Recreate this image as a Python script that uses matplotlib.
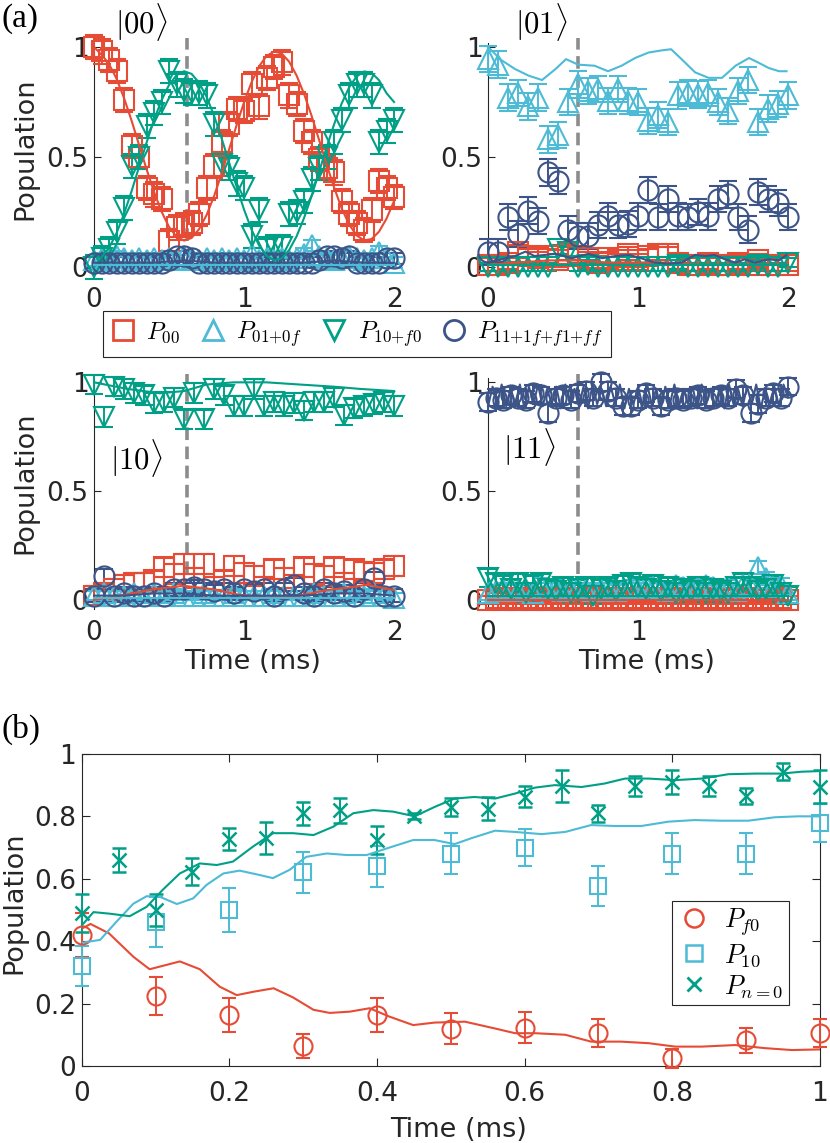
import numpy as np
import matplotlib
matplotlib.use("Agg")
import matplotlib.pyplot as plt
from matplotlib.lines import Line2D

plt.rcParams["font.family"] = ["DejaVu Sans"]
plt.rcParams["mathtext.fontset"] = "cm"

RED = "#E64B35"
CYAN = "#4DBBD5"
GREEN = "#00A087"
NAVY = "#3C5488"
GREY = "#8C8C8C"
INK = "#262626"

# ---------------- panel (a): populations, time in ms ----------------
# |00> start, 41 samples 0..2 ms
p00_00 = [1.00, 0.98, 0.94, 0.89, 0.76, 0.55, 0.50, 0.36, 0.33, 0.31,
          0.12, 0.18, 0.19, 0.20, 0.24, 0.36, 0.46, 0.57, 0.65, 0.72,
          0.71, 0.83, 0.73, 0.86, 0.91, 0.93, 0.78, 0.74, 0.62, 0.57,
          0.49, 0.45, 0.43, 0.30, 0.24, 0.20, 0.17, 0.26, 0.39, 0.36,
          0.32]
p01_00 = [0.03, 0.04, 0.03, 0.05, 0.04, 0.03, 0.04, 0.03, 0.04, 0.03,
          0.04, 0.03, 0.05, 0.04, 0.03, 0.04, 0.03, 0.04, 0.03, 0.04,
          0.03, 0.06, 0.03, 0.04, 0.03, 0.04, 0.03, 0.04, 0.06, 0.10,
          0.05, 0.04, 0.03, 0.04, 0.05, 0.04, 0.03, 0.04, 0.07, 0.04,
          0.02]
p10_00 = [0.00, 0.04, 0.08, 0.16, 0.27, 0.46, 0.50, 0.64, 0.70, 0.75,
          0.89, 0.83, 0.80, 0.79, 0.79, 0.78, 0.65, 0.47, 0.45, 0.38,
          0.36, 0.14, 0.26, 0.08, 0.09, 0.09, 0.24, 0.25, 0.30, 0.40,
          0.45, 0.50, 0.57, 0.67, 0.78, 0.83, 0.83, 0.78, 0.57, 0.62,
          0.67]
p11_00 = [0.02, 0.02, 0.02, 0.02, 0.02, 0.02, 0.02, 0.02, 0.02, 0.02,
          0.03, 0.05, 0.05, 0.04, 0.02, 0.02, 0.02, 0.02, 0.02, 0.02,
          0.02, 0.02, 0.02, 0.02, 0.02, 0.02, 0.02, 0.02, 0.02, 0.02,
          0.03, 0.05, 0.05, 0.04, 0.05, 0.02, 0.02, 0.02, 0.02, 0.04,
          0.04]
err_00 = [0.055, 0.025, 0.055, 0.025]
th00_00 = [1.00, 0.965, 0.923, 0.856, 0.768, 0.666, 0.555, 0.445, 0.341, 0.252,
           0.182, 0.138, 0.12, 0.132, 0.172, 0.236, 0.322, 0.424, 0.534, 0.644,
           0.749, 0.840, 0.912, 0.959, 0.98, 0.971, 0.934, 0.871, 0.787, 0.688,
           0.578, 0.467, 0.362, 0.268, 0.194, 0.144, 0.121, 0.127, 0.161, 0.22,
           0.30]
th10_00 = [0.00, 0.045, 0.087, 0.154, 0.242, 0.344, 0.455, 0.565, 0.669, 0.758,
           0.828, 0.872, 0.89, 0.878, 0.838, 0.774, 0.688, 0.586, 0.476, 0.366,
           0.261, 0.17, 0.098, 0.051, 0.03, 0.039, 0.076, 0.139, 0.223, 0.322,
           0.432, 0.543, 0.648, 0.742, 0.816, 0.866, 0.889, 0.883, 0.849, 0.79,
           0.75]
th01_00 = [0.01, 0.01, 0.01, 0.01, 0.01, 0.01, 0.01, 0.01, 0.01, 0.01, 0.01]
th11_00 = [0.02, 0.02, 0.02, 0.03, 0.02, 0.02, 0.02, 0.02, 0.03, 0.02, 0.02]

# |01> start, 31 samples
p00_01 = [0.01, 0.01, 0.02, 0.07, 0.05, 0.04, 0.05, 0.03, 0.06, 0.05,
          0.04, 0.02, 0.04, 0.03, 0.06, 0.03, 0.05, 0.06, 0.06, 0.02,
          0.01, 0.01, 0.02, 0.01, 0.01, 0.02, 0.01, 0.03, 0.01, 0.01,
          0.01]
p01_01 = [0.945, 0.92, 0.77, 0.79, 0.73, 0.77, 0.58, 0.60, 0.75, 0.83,
          0.80, 0.81, 0.755, 0.81, 0.755, 0.75, 0.665, 0.69, 0.66, 0.78,
          0.79, 0.785, 0.79, 0.75, 0.71, 0.80, 0.85, 0.66, 0.72, 0.74,
          0.78]
p10_01 = [0.00, 0.00, 0.00, 0.00, 0.00, 0.00, 0.00, 0.08, 0.07, 0.00,
          0.01, 0.00, 0.00, 0.00, 0.00, 0.00, 0.00, 0.00, 0.00, 0.01,
          0.00, 0.00, 0.00, 0.00, 0.00, 0.00, 0.00, 0.01, 0.00, 0.00,
          0.02]
p11_01 = [0.067, 0.067, 0.226, 0.15, 0.256, 0.21, 0.43, 0.39, 0.17, 0.14,
          0.14, 0.19, 0.23, 0.19, 0.195, 0.23, 0.35, 0.226, 0.31, 0.23,
          0.226, 0.25, 0.23, 0.31, 0.33, 0.226, 0.17, 0.34, 0.31, 0.29,
          0.226]
err_01 = [0.03, 0.06, 0.02, 0.06]
th01_01_t = [0, 0.09, 0.18, 0.27, 0.36, 0.45, 0.52, 0.6, 0.71, 0.8, 0.89, 0.98, 1.07,
             1.16, 1.22, 1.29, 1.38, 1.47, 1.56, 1.65, 1.74, 1.80, 1.87, 1.94, 1.99]
th01_01 = [1.0, 0.94, 0.90, 0.87, 0.85, 0.90, 0.945, 0.92, 0.915, 0.89, 0.915, 0.95, 0.975,
           0.985, 0.99, 0.945, 0.885, 0.86, 0.86, 0.915, 0.95, 0.93, 0.905, 0.89, 0.89]
th11_01_t = [0, 0.09, 0.18, 0.25, 0.31, 0.45, 0.56, 0.67, 0.76, 0.85, 0.94, 1.02, 1.11,
             1.2, 1.29, 1.38, 1.45, 1.51, 1.58, 1.65, 1.71, 1.78, 1.87, 1.94, 1.99]
th11_01 = [0.02, 0.035, 0.05, 0.07, 0.05, 0.06, 0.04, 0.06, 0.04, 0.05, 0.055, 0.04, 0.02,
           0.015, 0.02, 0.055, 0.05, 0.055, 0.035, 0.02, 0.035, 0.02, 0.035, 0.03, 0.055]
th00_01 = [0.01, 0.02, 0.03, 0.03, 0.02, 0.02, 0.02, 0.01, 0.01, 0.01, 0.01]
th10_01 = [0.01, 0.01, 0.01, 0.01, 0.01, 0.01, 0.01, 0.01, 0.01, 0.01, 0.01]

# |10> start, 31 samples
p00_10 = [0.02, 0.03, 0.05, 0.07, 0.08, 0.08, 0.09, 0.15, 0.12, 0.165,
          0.10, 0.165, 0.06, 0.09, 0.155, 0.125, 0.11, 0.06, 0.14, 0.10,
          0.07, 0.15, 0.12, 0.11, 0.15, 0.08, 0.14, 0.13, 0.125, 0.14,
          0.155]
p01_10 = [0.02, 0.03, 0.02, 0.02, 0.03, 0.02, 0.03, 0.02, 0.03, 0.02,
          0.02, 0.03, 0.02, 0.02, 0.03, 0.02, 0.02, 0.02, 0.03, 0.02,
          0.02, 0.02, 0.03, 0.02, 0.02, 0.03, 0.02, 0.02, 0.03, 0.02,
          0.01]
p10_10 = [0.99, 0.84, 0.98, 0.97, 0.95, 0.94, 0.905, 0.91, 0.93, 0.83,
          0.95, 0.83, 0.97, 0.94, 0.89, 0.89, 0.97, 0.89, 0.91, 0.89,
          0.905, 0.87, 0.91, 0.91, 0.93, 0.85, 0.88, 0.89, 0.90, 0.91,
          0.89]
p11_10 = [0.02, 0.11, 0.02, 0.03, 0.02, 0.02, 0.03, 0.02, 0.05, 0.05,
          0.06, 0.05, 0.04, 0.05, 0.03, 0.05, 0.04, 0.05, 0.02, 0.05,
          0.07, 0.03, 0.02, 0.05, 0.03, 0.04, 0.02, 0.05, 0.10, 0.02,
          0.02]
err_10 = [0.045, 0.02, 0.045, 0.03]
th10_10_t = [0, 0.22, 0.44, 0.6, 0.75, 0.93, 1.15, 1.37, 1.6, 1.77, 2.0]
th10_10 = [1.0, 0.97, 0.95, 0.96, 0.99, 1.0, 1.0, 0.99, 0.98, 0.97, 0.96]
th00_10_t = [0, 0.22, 0.4, 0.6, 0.78, 0.96, 1.15, 1.37, 1.55, 1.73, 1.82, 2.0]
th00_10 = [0.0, 0.025, 0.05, 0.065, 0.05, 0.025, 0.01, 0.02, 0.045, 0.06, 0.07, 0.045]
th01_10 = [0.01, 0.01, 0.01, 0.01, 0.01, 0.01, 0.01, 0.01, 0.01, 0.01, 0.01]
th11_10 = [0.02, 0.02, 0.03, 0.03, 0.02, 0.02, 0.02, 0.02, 0.03, 0.03, 0.02]

# |11> start, 41 samples
p00_11 = [0.00, 0.01, 0.00, 0.01, 0.00, 0.01, 0.00, 0.01, 0.00, 0.01,
          0.00, 0.01, 0.00, 0.01, 0.00, 0.01, 0.00, 0.01, 0.00, 0.01,
          0.00, 0.01, 0.00, 0.01, 0.00, 0.01, 0.00, 0.01, 0.00, 0.01,
          0.00, 0.01, 0.00, 0.01, 0.00, 0.01, 0.00, 0.01, 0.00, 0.01,
          0.00]
p01_11 = [0.03, 0.04, 0.05, 0.06, 0.04, 0.05, 0.03, 0.07, 0.05, 0.06,
          0.04, 0.05, 0.06, 0.05, 0.04, 0.05, 0.06, 0.04, 0.05, 0.06,
          0.05, 0.07, 0.06, 0.05, 0.04, 0.07, 0.06, 0.05, 0.06, 0.07,
          0.06, 0.05, 0.06, 0.04, 0.07, 0.06, 0.15, 0.10, 0.06, 0.07,
          0.03]
p10_11 = [0.10, 0.08, 0.07, 0.05, 0.08, 0.03, 0.07, 0.08, 0.05, 0.04,
          0.06, 0.03, 0.05, 0.06, 0.02, 0.05, 0.06, 0.04, 0.07, 0.08,
          0.06, 0.05, 0.07, 0.04, 0.06, 0.03, 0.05, 0.04, 0.06, 0.03,
          0.05, 0.04, 0.03, 0.06, 0.08, 0.06, 0.04, 0.05, 0.07, 0.03,
          0.02]
p11_11 = [0.91, 0.93, 0.92, 0.94, 0.93, 0.92, 0.95, 0.94, 0.86, 0.93,
          0.94, 0.92, 0.95, 0.96, 0.93, 1.00, 0.96, 0.93, 0.89, 0.89,
          0.92, 0.95, 0.93, 0.89, 0.92, 0.93, 0.92, 0.93, 0.94, 0.92,
          0.93, 0.94, 0.93, 0.97, 0.94, 0.86, 0.90, 0.93, 0.95, 0.93,
          0.98]
err_11 = [0.02, 0.03, 0.04, 0.04]
th11_11 = [0.89, 0.98, 0.90, 0.99, 0.89, 0.97, 0.90, 0.99, 0.88, 0.98,
           0.90, 0.99, 0.89, 0.97, 0.90, 0.98, 0.88, 0.99, 0.90, 0.97,
           0.89, 0.98, 0.88, 0.99, 0.90, 0.97, 0.89, 0.98, 0.90, 0.99,
           0.88, 0.97, 0.90, 0.98, 0.89, 0.99, 0.90, 0.97, 0.88, 0.98,
           0.90, 0.99, 0.89, 0.97, 0.90, 0.98, 0.88, 0.99, 0.90, 0.97,
           0.89, 0.98, 0.88, 0.99, 0.90, 0.97, 0.89, 0.98, 0.90, 0.99,
           0.88, 0.97, 0.90, 0.98, 0.89, 0.99, 0.93]
th00_11 = [0.0, 0.0, 0.0, 0.0, 0.0, 0.0, 0.0, 0.0, 0.0, 0.0, 0.0]
th01_11 = [0.02, 0.02, 0.02, 0.02, 0.02, 0.02, 0.02, 0.02, 0.02, 0.02, 0.02]
th10_11 = [0.02, 0.02, 0.02, 0.02, 0.02, 0.02, 0.02, 0.02, 0.02, 0.02, 0.02]

dash_x = [0.62, 0.6, 0.62, 0.6]
kets = [r"$|00\rangle$", r"$|01\rangle$", r"$|10\rangle$", r"$|11\rangle$"]
legend_a = [r"$P_{00}$", r"$P_{01{+}0f}$", r"$P_{10{+}f0}$", r"$P_{11{+}1f{+}f1{+}ff}$"]

# ---------------- panel (b) ----------------
tb10 = [0.0, 0.1, 0.2, 0.3, 0.4, 0.5, 0.6, 0.7, 0.8, 0.9, 1.0]
pf0_b = [0.42, 0.224, 0.163, 0.064, 0.163, 0.12, 0.123, 0.105, 0.025, 0.083, 0.105]
ef0_b = [0.07, 0.06, 0.055, 0.04, 0.055, 0.05, 0.05, 0.045, 0.03, 0.04, 0.045]
p10_b = [0.32, 0.46, 0.50, 0.62, 0.64, 0.68, 0.70, 0.577, 0.68, 0.68, 0.778]
e10_b = [0.065, 0.08, 0.07, 0.065, 0.065, 0.065, 0.06, 0.065, 0.065, 0.065, 0.06]
tb20 = [0.0, 0.05, 0.1, 0.15, 0.2, 0.25, 0.3, 0.35, 0.4, 0.45, 0.5,
        0.55, 0.6, 0.65, 0.7, 0.75, 0.8, 0.85, 0.9, 0.95, 1.0]
pn0_b = [0.49, 0.66, 0.50, 0.623, 0.727, 0.73, 0.81, 0.82, 0.725, 0.80, 0.83,
         0.825, 0.863, 0.897, 0.81, 0.897, 0.911, 0.897, 0.865, 0.943, 0.895]
en0_b = [0.06, 0.04, 0.05, 0.043, 0.036, 0.052, 0.037, 0.04, 0.045, 0.01, 0.03,
         0.037, 0.033, 0.052, 0.027, 0.033, 0.038, 0.033, 0.027, 0.027, 0.053]
thf0_b_t = [0, 0.012, 0.037, 0.07, 0.092, 0.115, 0.133, 0.16, 0.187, 0.21,
            0.233, 0.26, 0.286, 0.314, 0.336, 0.363, 0.39, 0.417, 0.449, 0.478,
            0.519, 0.56, 0.587, 0.614, 0.655, 0.69, 0.73, 0.768, 0.804, 0.84,
            0.885, 0.926, 0.962, 1.0]
thf0_b = [0.44, 0.455, 0.425, 0.35, 0.31, 0.324, 0.335, 0.31, 0.254, 0.227,
          0.238, 0.249, 0.22, 0.18, 0.17, 0.174, 0.185, 0.158, 0.131, 0.139,
          0.142, 0.12, 0.105, 0.105, 0.10, 0.078, 0.078, 0.073, 0.062, 0.062,
          0.067, 0.057, 0.051, 0.053]
th10_b_t = [0, 0.025, 0.047, 0.07, 0.088, 0.106, 0.129, 0.151, 0.169, 0.192,
            0.214, 0.241, 0.259, 0.282, 0.304, 0.332, 0.359, 0.386, 0.413, 0.449,
            0.478, 0.505, 0.528, 0.56, 0.587, 0.623, 0.655, 0.69, 0.722, 0.758,
            0.795, 0.83, 0.866, 0.903, 0.939, 0.97, 1.0]
th10_b = [0.395, 0.404, 0.462, 0.52, 0.544, 0.542, 0.519, 0.537, 0.58, 0.617,
          0.626, 0.612, 0.602, 0.629, 0.67, 0.681, 0.676, 0.676, 0.697, 0.724,
          0.724, 0.711, 0.73, 0.754, 0.75, 0.743, 0.75, 0.772, 0.769, 0.769,
          0.783, 0.788, 0.786, 0.786, 0.797, 0.80, 0.80]
thn0_b_t = [0, 0.016, 0.038, 0.065, 0.088, 0.11, 0.133, 0.16, 0.183, 0.205,
            0.232, 0.259, 0.286, 0.314, 0.341, 0.368, 0.395, 0.422, 0.451, 0.478,
            0.505, 0.532, 0.56, 0.587, 0.614, 0.641, 0.677, 0.708, 0.736, 0.768,
            0.804, 0.84, 0.876, 0.912, 0.948, 0.975, 1.0]
thn0_b = [0.45, 0.493, 0.488, 0.48, 0.51, 0.565, 0.617, 0.649, 0.644, 0.655,
          0.703, 0.746, 0.746, 0.74, 0.767, 0.81, 0.82, 0.815, 0.80, 0.83,
          0.857, 0.862, 0.857, 0.873, 0.892, 0.90, 0.894, 0.905, 0.921, 0.921,
          0.916, 0.921, 0.935, 0.937, 0.937, 0.943, 0.945]
legend_b = [r"$P_{f0}$", r"$P_{10}$", r"$P_{n{=}0}$"]

# marker styles for the four series of panel (a)
STYLE_A = [("s", RED, 14), ("^", CYAN, 15), ("v", GREEN, 15), ("o", NAVY, 14.5)]


def tgrid(vals, t=None):
    return np.asarray(t) if t is not None else np.linspace(0, 2, len(vals))


def draw_a(ax, data, errs, lines, dx):
    ax.plot([dx, dx], [0.12, 1.04], color=GREY, lw=2.6, dashes=(3.5, 1.8),
            clip_on=False, zorder=1)
    for vals, e, (mk, col, ms) in zip(data, errs, STYLE_A):
        ax.errorbar(tgrid(vals), vals, yerr=e, fmt=mk, mfc="none", mec=col,
                    ecolor=col, ms=ms, mew=1.5, elinewidth=1.4, capsize=6.5,
                    capthick=1.4, clip_on=False, zorder=3)
    for t, vals, col in lines:
        ax.plot(tgrid(vals, t), vals, color=col, lw=1.5, clip_on=False, zorder=4)
    ax.set_xlim(0, 2.05)
    ax.set_ylim(-0.04, 1.02)
    for s in ["top", "right", "bottom"]:
        ax.spines[s].set_visible(False)
    ax.spines["left"].set_color(INK)
    ax.spines["left"].set_linewidth(0.8)
    ax.set_yticks([0, 0.5, 1])
    ax.set_yticklabels(["0", "0.5", "1"])
    ax.set_xticks([0, 1, 2])
    ax.set_xticklabels(["0", "1", "2"])
    ax.tick_params(axis="y", direction="in", length=5, width=0.8, labelsize=19,
                   pad=4, colors=INK)
    ax.tick_params(axis="x", length=0, labelsize=19, pad=8, colors=INK)


fig = plt.figure(figsize=(8.3, 11.43), dpi=100)

pos_a = [[0.1133, 0.7587, 0.3705, 0.2040], [0.5880, 0.7587, 0.3705, 0.2040],
         [0.1133, 0.4675, 0.3705, 0.2018], [0.5880, 0.4675, 0.3705, 0.2018]]
panels = [
    ([p00_00, p01_00, p10_00, p11_00], err_00,
     [(None, th00_00, RED), (None, th10_00, GREEN), (None, th01_00, CYAN), (None, th11_00, NAVY)]),
    ([p00_01, p01_01, p10_01, p11_01], err_01,
     [(th01_01_t, th01_01, CYAN), (None, th00_01, RED), (None, th10_01, GREEN),
      (th11_01_t, th11_01, NAVY)]),
    ([p00_10, p01_10, p10_10, p11_10], err_10,
     [(th10_10_t, th10_10, GREEN), (th00_10_t, th00_10, RED), (None, th01_10, CYAN),
      (None, th11_10, NAVY)]),
    ([p00_11, p01_11, p10_11, p11_11], err_11,
     [(None, th11_11, NAVY), (None, th00_11, RED), (None, th01_11, CYAN), (None, th10_11, GREEN)]),
]
ket_xy = [(141, 22), (541, 22), (136, 458), (529, 447)]

for i, (pos, (data, errs, lines)) in enumerate(zip(pos_a, panels)):
    ax = fig.add_axes(pos)
    draw_a(ax, data, errs, lines, dash_x[i])
    if i % 2 == 0:
        ax.set_ylabel("Population", fontsize=19.5, color=INK)
        ax.yaxis.set_label_coords(-0.182, 0.547)
    if i >= 2:
        ax.set_xlabel("Time (ms)", fontsize=19.5, color=INK)
        ax.xaxis.set_label_coords(0.515, -0.175)
    kx, ky = ket_xy[i]
    fig.text(kx / 830, 1 - ky / 1143, kets[i], fontsize=22, ha="center", va="center")

handles_a = [Line2D([], [], ls="none", marker=mk, mfc="none", mec=col, ms=ms, mew=2)
             for mk, col, ms in STYLE_A]
leg = fig.legend(handles_a, legend_a, loc="center", bbox_to_anchor=(0.430, 0.7078),
                 ncol=4, fontsize=17.5, handlelength=1.0, handletextpad=0.45,
                 columnspacing=0.85, borderpad=0.32, fancybox=False, framealpha=1)
leg.get_frame().set_edgecolor(INK)
leg.get_frame().set_linewidth(0.8)

fig.text(20 / 830, 1 - 19 / 1143, "(a)", family="Liberation Serif", fontsize=24,
         ha="center", va="center")
fig.text(21 / 830, 1 - 729 / 1143, "(b)", family="Liberation Serif", fontsize=24,
         ha="center", va="center")

# ---------------- panel (b) ----------------
axb = fig.add_axes([0.0984, 0.0674, 0.8895, 0.2730])
axb.errorbar(tb10, pf0_b, yerr=ef0_b, fmt="o", mfc="none", mec=RED, ecolor=RED,
             ms=13, mew=1.5, elinewidth=1.4, capsize=4.8, capthick=1.4,
             clip_on=False, zorder=3)
axb.errorbar(tb10, p10_b, yerr=e10_b, fmt="s", mfc="none", mec=CYAN, ecolor=CYAN,
             ms=11.5, mew=1.5, elinewidth=1.4, capsize=4.8, capthick=1.4,
             clip_on=False, zorder=3)
axb.errorbar(tb20, pn0_b, yerr=en0_b, fmt="x", mec=GREEN, ecolor=GREEN,
             ms=9.5, mew=1.8, elinewidth=1.4, capsize=4.8, capthick=1.4,
             clip_on=False, zorder=3)
axb.plot(thf0_b_t, thf0_b, color=RED, lw=1.5, zorder=4, solid_joinstyle="round")
axb.plot(th10_b_t, th10_b, color=CYAN, lw=1.5, zorder=4, solid_joinstyle="round")
axb.plot(thn0_b_t, thn0_b, color=GREEN, lw=1.5, zorder=4, solid_joinstyle="round")
axb.set_xlim(0, 1)
axb.set_ylim(0, 1)
ticks_b = [0, 0.2, 0.4, 0.6, 0.8, 1]
labels_b = ["0", "0.2", "0.4", "0.6", "0.8", "1"]
axb.set_xticks(ticks_b)
axb.set_xticklabels(labels_b)
axb.set_yticks(ticks_b)
axb.set_yticklabels(labels_b)
axb.tick_params(direction="in", top=True, right=True, length=6, width=0.8,
                labelsize=19, colors=INK)
axb.tick_params(axis="x", pad=11)
axb.tick_params(axis="y", pad=4)
for s in axb.spines.values():
    s.set_color(INK)
    s.set_linewidth(0.8)
axb.set_xlabel("Time (ms)", fontsize=19.5, color=INK)
axb.xaxis.set_label_coords(0.511, -0.163)
axb.set_ylabel("Population", fontsize=19.5, color=INK)
axb.yaxis.set_label_coords(-0.074, 0.522)

handles_b = [Line2D([], [], ls="none", marker="o", mfc="none", mec=RED, ms=13, mew=1.8),
             Line2D([], [], ls="none", marker="s", mfc="none", mec=CYAN, ms=12, mew=1.8),
             Line2D([], [], ls="none", marker="x", mec=GREEN, ms=10, mew=2)]
legb = axb.legend(handles_b, legend_b, loc="upper right", bbox_to_anchor=(0.958, 0.529),
                  borderaxespad=0, fontsize=19, handlelength=1.3, handletextpad=0.5,
                  labelspacing=0.15, borderpad=0.2, fancybox=False, framealpha=1)
legb.get_frame().set_edgecolor(INK)
legb.get_frame().set_linewidth(0.8)

fig.savefig("out.png", dpi=100)
